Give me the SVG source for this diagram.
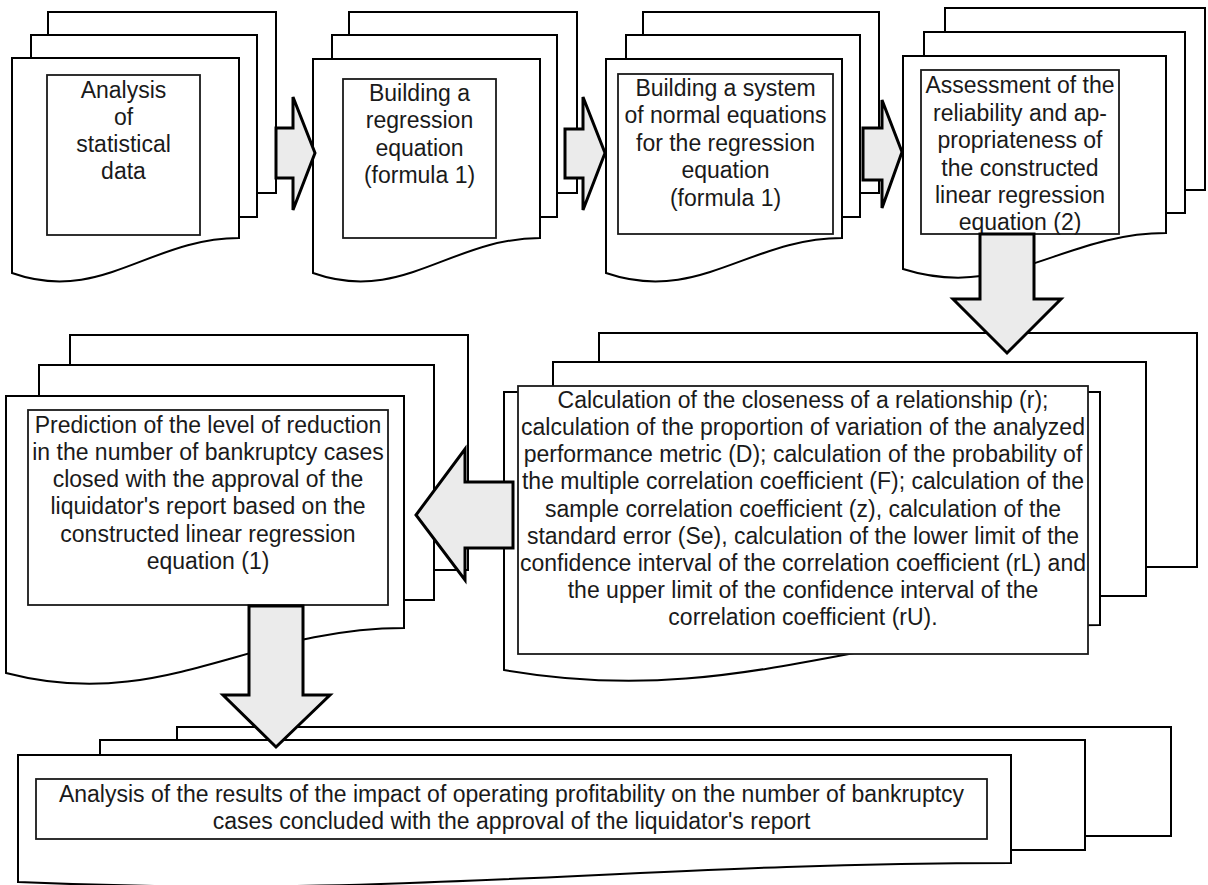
<svg xmlns="http://www.w3.org/2000/svg" width="1208" height="885" viewBox="0 0 1208 885">
<defs>
<style>
.bg{fill:#ffffff}
.sheet{fill:#ffffff;stroke:#000;stroke-width:2}
.inner{fill:#ffffff;stroke:#1a1a1a;stroke-width:1.8}
.arrow{fill:#ebebeb;stroke:#000;stroke-width:3;stroke-linejoin:miter}
text{font-family:"Liberation Sans",Arial,sans-serif;font-size:23px;fill:#1a1a1a;text-anchor:middle}
</style>
</defs>
<rect class="bg" x="0" y="0" width="1208" height="885"/>

<g id="node1">
<rect class="sheet" x="48" y="12" width="228" height="181"/>
<rect class="sheet" x="31" y="35" width="226" height="182"/>
<path class="sheet" d="M12,58 H239 V238 C150.5,238 100.5,304.5 12,273 Z"/>
<rect class="inner" x="47" y="75" width="153" height="160"/>
<text x="123.5" y="98">Analysis</text>
<text x="123.5" y="125">of</text>
<text x="123.5" y="152">statistical</text>
<text x="123.5" y="179">data</text>
</g>

<g id="node2">
<rect class="sheet" x="349" y="12" width="228" height="181"/>
<rect class="sheet" x="332" y="35" width="225" height="182"/>
<path class="sheet" d="M313,59 H540 V238 C451.5,238 401.5,304.5 313,273 Z"/>
<rect class="inner" x="343" y="79" width="153" height="159"/>
<text x="419.5" y="101">Building a</text>
<text x="419.5" y="128">regression</text>
<text x="419.5" y="155.5">equation</text>
<text x="419.5" y="183">(formula 1)</text>
</g>

<g id="node3">
<rect class="sheet" x="643" y="12" width="236" height="181"/>
<rect class="sheet" x="626" y="35" width="234" height="182"/>
<path class="sheet" d="M606,59 H842 V238 C750,238 698,304.5 606,273 Z"/>
<rect class="inner" x="618" y="74" width="215" height="160"/>
<text x="725.5" y="96">Building a system</text>
<text x="725.5" y="123">of normal equations</text>
<text x="725.5" y="151">for the regression</text>
<text x="725.5" y="178">equation</text>
<text x="725.5" y="206">(formula 1)</text>
</g>

<g id="node4">
<rect class="sheet" x="945" y="8" width="260" height="182"/>
<rect class="sheet" x="924" y="32" width="261" height="181"/>
<path class="sheet" d="M903,56 H1166 V233 C1063.4,233 1005.6,301.4 903,269 Z"/>
<rect class="inner" x="921" y="70" width="198" height="164"/>
<text x="1020" y="93">Assessment of the</text>
<text x="1020" y="120.5">reliability and ap-</text>
<text x="1020" y="148">propriateness of</text>
<text x="1020" y="175.5">the constructed</text>
<text x="1020" y="203">linear regression</text>
<text x="1020" y="230">equation (2)</text>
</g>

<g id="node5">
<rect class="sheet" x="599" y="333" width="598" height="234"/>
<rect class="sheet" x="553" y="362" width="593" height="234"/>
<path class="sheet" d="M504,392 H1100 V625 C867.6,625 736.4,710.5 504,670 Z"/>
<rect class="inner" x="518" y="386" width="570" height="268"/>
<text x="803" y="408">Calculation of the closeness of a relationship (r);</text>
<text x="803" y="435">calculation of the proportion of variation of the analyzed</text>
<text x="803" y="462">performance metric (D); calculation of the probability of</text>
<text x="803" y="489">the multiple correlation coefficient (F); calculation of the</text>
<text x="803" y="516.5">sample correlation coefficient (z), calculation of the</text>
<text x="803" y="543.5">standard error (Se), calculation of the lower limit of the</text>
<text x="803" y="571">confidence interval of the correlation coefficient (rL) and</text>
<text x="803" y="598">the upper limit of the confidence interval of the</text>
<text x="803" y="625">correlation coefficient (rU).</text>
</g>

<g id="node6">
<rect class="sheet" x="70" y="335" width="398" height="235"/>
<rect class="sheet" x="39" y="365" width="395" height="235"/>
<path class="sheet" d="M6,396 H404 V628 C248.8,628 161.2,713.5 6,673 Z"/>
<rect class="inner" x="28" y="410" width="360" height="195"/>
<text x="208" y="433">Prediction of the level of reduction</text>
<text x="208" y="460">in the number of bankruptcy cases</text>
<text x="208" y="487">closed with the approval of the</text>
<text x="208" y="514">liquidator's report based on the</text>
<text x="208" y="541.5">constructed linear regression</text>
<text x="208" y="569">equation (1)</text>
</g>

<g id="node7">
<rect class="sheet" x="177" y="727" width="994" height="109"/>
<rect class="sheet" x="100" y="740" width="985" height="110"/>
<path class="sheet" d="M18,755 H1011 V863 C623.7,863 405.3,899 18,882 Z"/>
<rect class="inner" x="36" y="779" width="951" height="60"/>
<text x="511.5" y="802">Analysis of the results of the impact of operating profitability on the number of bankruptcy</text>
<text x="511.5" y="829">cases concluded with the approval of the liquidator's report</text>
</g>

<g id="connectors">
<path class="arrow" d="M276,128 H293 V97 L315,153 L293,210 V178 H276 Z"/>
<path class="arrow" d="M565,129 H583 V97 L605,153 L583,210 V178 H565 Z"/>
<path class="arrow" d="M863,128 H882 V100 L902,152 L882,208 V180 H863 Z"/>
<path class="arrow" d="M980,234 H1034 V299 H1061 L1007,353 L953,299 H980 Z"/>
<path class="arrow" d="M513,482 V548 H465 V580 L416,515 L465,449 V482 Z"/>
<path class="arrow" d="M249,606 H303 V695 H330 L276,747 L223,695 H249 Z"/>
</g>
</svg>
